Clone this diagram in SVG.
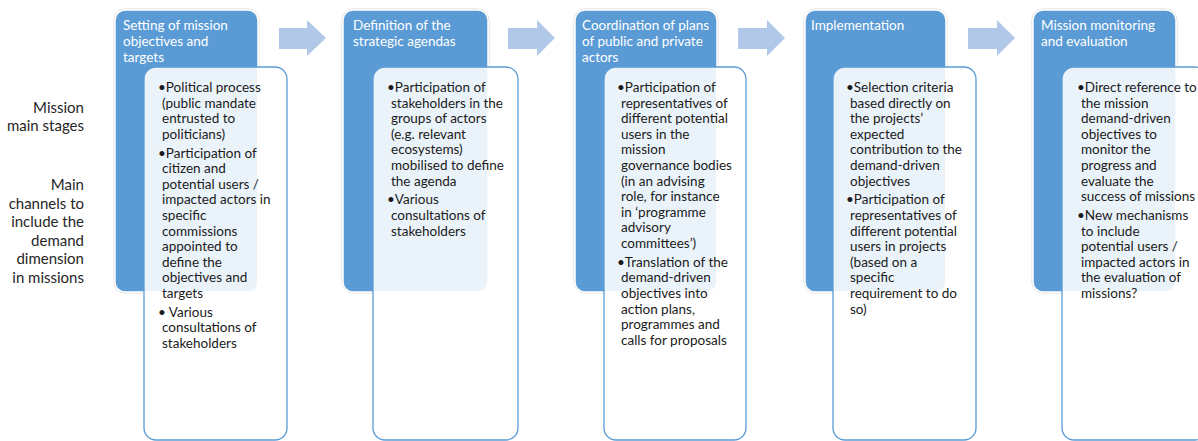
<svg xmlns="http://www.w3.org/2000/svg" width="1198" height="441" viewBox="0 0 1198 441">
<style>
.blue{fill:#5B9BD5;stroke:#FFFFFF;stroke-width:1.5}
.halo{fill:none;stroke:#D9D9D9;stroke-width:1}
.card{fill:#FFFFFF;fill-opacity:0.88;stroke:#5B9BD5;stroke-width:1.3}
.hd{font-family:Lato,"Liberation Sans",sans-serif;font-size:13.5px;fill:#FFFFFF}
.bd{font-family:Lato,"Liberation Sans",sans-serif;font-size:13.5px;fill:#1A1A1A}
.lb{font-family:Lato,"Liberation Sans",sans-serif;font-size:15px;fill:#262626;text-anchor:end}
.arr{fill:#B2C8E8}
</style>
<rect width="1198" height="441" fill="#FFFFFF"/>
<g id="labels">
<text class="lb" x="84"><tspan x="84" y="113">Mission</tspan><tspan x="84" y="131">main stages</tspan></text>
<text class="lb" x="84"><tspan x="84" y="190">Main</tspan><tspan x="84" y="208.5">channels to</tspan><tspan x="84" y="227">include the</tspan><tspan x="84" y="245.5">demand</tspan><tspan x="84" y="264">dimension</tspan><tspan x="84" y="282.5">in missions</tspan></text>
</g>
<g id="connectors">
<polygon class="arr" points="279,28 307,28 307,20 326,38 307,56 307,49 279,49"/>
<polygon class="arr" points="508,28 537,28 537,20 555,38 537,56 537,49 508,49"/>
<polygon class="arr" points="738,28 767,28 767,20 785,38 767,56 767,49 738,49"/>
<polygon class="arr" points="968,28 997,28 997,20 1015,38 997,56 997,49 968,49"/>
</g>
<g id="stage1">
<rect class="halo" x="114" y="9" width="145" height="284" rx="11"/>
<rect class="blue" x="115" y="10" width="143" height="282" rx="10"/>
<text class="hd"><tspan x="123" y="30">Setting of mission</tspan><tspan x="123" y="46">objectives and</tspan><tspan x="123" y="62">targets</tspan></text>
<rect class="card" x="144" y="67" width="143" height="373" rx="12"/>
<text class="bd"><tspan x="158" y="92">•Political process</tspan><tspan x="162" y="107.6">(public mandate</tspan><tspan x="162" y="123.2">entrusted to</tspan><tspan x="162" y="138.8">politicians)</tspan><tspan x="158" y="157.5">•Participation of</tspan><tspan x="162" y="173.1">citizen and</tspan><tspan x="162" y="188.7">potential users /</tspan><tspan x="162" y="204.3">impacted actors in</tspan><tspan x="162" y="219.9">specific</tspan><tspan x="162" y="235.5">commissions</tspan><tspan x="162" y="251.1">appointed to</tspan><tspan x="162" y="266.7">define the</tspan><tspan x="162" y="282.3">objectives and</tspan><tspan x="162" y="297.9">targets</tspan><tspan x="158" y="316.6">• Various</tspan><tspan x="162" y="332.2">consultations of</tspan><tspan x="162" y="347.8">stakeholders</tspan></text>
</g>
<g id="stage2">
<rect class="halo" x="342" y="9" width="147" height="284" rx="11"/>
<rect class="blue" x="343" y="10" width="145" height="282" rx="10"/>
<text class="hd"><tspan x="353" y="30">Definition of the</tspan><tspan x="353" y="46">strategic agendas</tspan></text>
<rect class="card" x="373" y="67" width="145" height="373" rx="12"/>
<text class="bd"><tspan x="387" y="92">•Participation of</tspan><tspan x="391" y="107.6">stakeholders in the</tspan><tspan x="391" y="123.2">groups of actors</tspan><tspan x="391" y="138.8">(e.g. relevant</tspan><tspan x="391" y="154.4">ecosystems)</tspan><tspan x="391" y="170">mobilised to define</tspan><tspan x="391" y="185.6">the agenda</tspan><tspan x="387" y="204.3">•Various</tspan><tspan x="391" y="219.9">consultations of</tspan><tspan x="391" y="235.5">stakeholders</tspan></text>
</g>
<g id="stage3">
<rect class="halo" x="574" y="9" width="144" height="284" rx="11"/>
<rect class="blue" x="575" y="10" width="142" height="282" rx="10"/>
<text class="hd"><tspan x="582" y="30">Coordination of plans</tspan><tspan x="582" y="46">of public and private</tspan><tspan x="582" y="62">actors</tspan></text>
<rect class="card" x="604" y="67" width="142" height="373" rx="12"/>
<text class="bd"><tspan x="617" y="92">•Participation of</tspan><tspan x="621" y="107.6">representatives of</tspan><tspan x="621" y="123.2">different potential</tspan><tspan x="621" y="138.8">users in the</tspan><tspan x="621" y="154.4">mission</tspan><tspan x="621" y="170">governance bodies</tspan><tspan x="621" y="185.6">(in an advising</tspan><tspan x="621" y="201.2">role, for instance</tspan><tspan x="621" y="216.8">in ‘programme</tspan><tspan x="621" y="232.4">advisory</tspan><tspan x="621" y="248">committees’)</tspan><tspan x="617" y="266.7">•Translation of the</tspan><tspan x="621" y="282.3">demand-driven</tspan><tspan x="621" y="297.9">objectives into</tspan><tspan x="621" y="313.5">action plans,</tspan><tspan x="621" y="329.1">programmes and</tspan><tspan x="621" y="344.7">calls for proposals</tspan></text>
</g>
<g id="stage4">
<rect class="halo" x="804" y="9" width="143" height="284" rx="11"/>
<rect class="blue" x="805" y="10" width="141" height="282" rx="10"/>
<text class="hd"><tspan x="811" y="30">Implementation</tspan></text>
<rect class="card" x="833" y="67" width="143" height="373" rx="12"/>
<text class="bd"><tspan x="846" y="92">•Selection criteria</tspan><tspan x="850" y="107.6">based directly on</tspan><tspan x="850" y="123.2">the projects’</tspan><tspan x="850" y="138.8">expected</tspan><tspan x="850" y="154.4">contribution to the</tspan><tspan x="850" y="170">demand-driven</tspan><tspan x="850" y="185.6">objectives</tspan><tspan x="846" y="204.3">•Participation of</tspan><tspan x="850" y="219.9">representatives of</tspan><tspan x="850" y="235.5">different potential</tspan><tspan x="850" y="251.1">users in projects</tspan><tspan x="850" y="266.7">(based on a</tspan><tspan x="850" y="282.3">specific</tspan><tspan x="850" y="297.9">requirement to do</tspan><tspan x="850" y="313.5">so)</tspan></text>
</g>
<g id="stage5">
<rect class="halo" x="1032" y="9" width="145" height="284" rx="11"/>
<rect class="blue" x="1033" y="10" width="143" height="282" rx="10"/>
<text class="hd"><tspan x="1041" y="30">Mission monitoring</tspan><tspan x="1041" y="46">and evaluation</tspan></text>
<rect class="card" x="1062" y="67" width="145" height="373" rx="12"/>
<text class="bd"><tspan x="1077" y="92">•Direct reference to</tspan><tspan x="1081" y="107.6">the mission</tspan><tspan x="1081" y="123.2">demand-driven</tspan><tspan x="1081" y="138.8">objectives to</tspan><tspan x="1081" y="154.4">monitor the</tspan><tspan x="1081" y="170">progress and</tspan><tspan x="1081" y="185.6">evaluate the</tspan><tspan x="1081" y="201.2">success of missions</tspan><tspan x="1077" y="219.9">•New mechanisms</tspan><tspan x="1081" y="235.5">to include</tspan><tspan x="1081" y="251.1">potential users /</tspan><tspan x="1081" y="266.7">impacted actors in</tspan><tspan x="1081" y="282.3">the evaluation of</tspan><tspan x="1081" y="297.9">missions?</tspan></text>
</g>
</svg>
